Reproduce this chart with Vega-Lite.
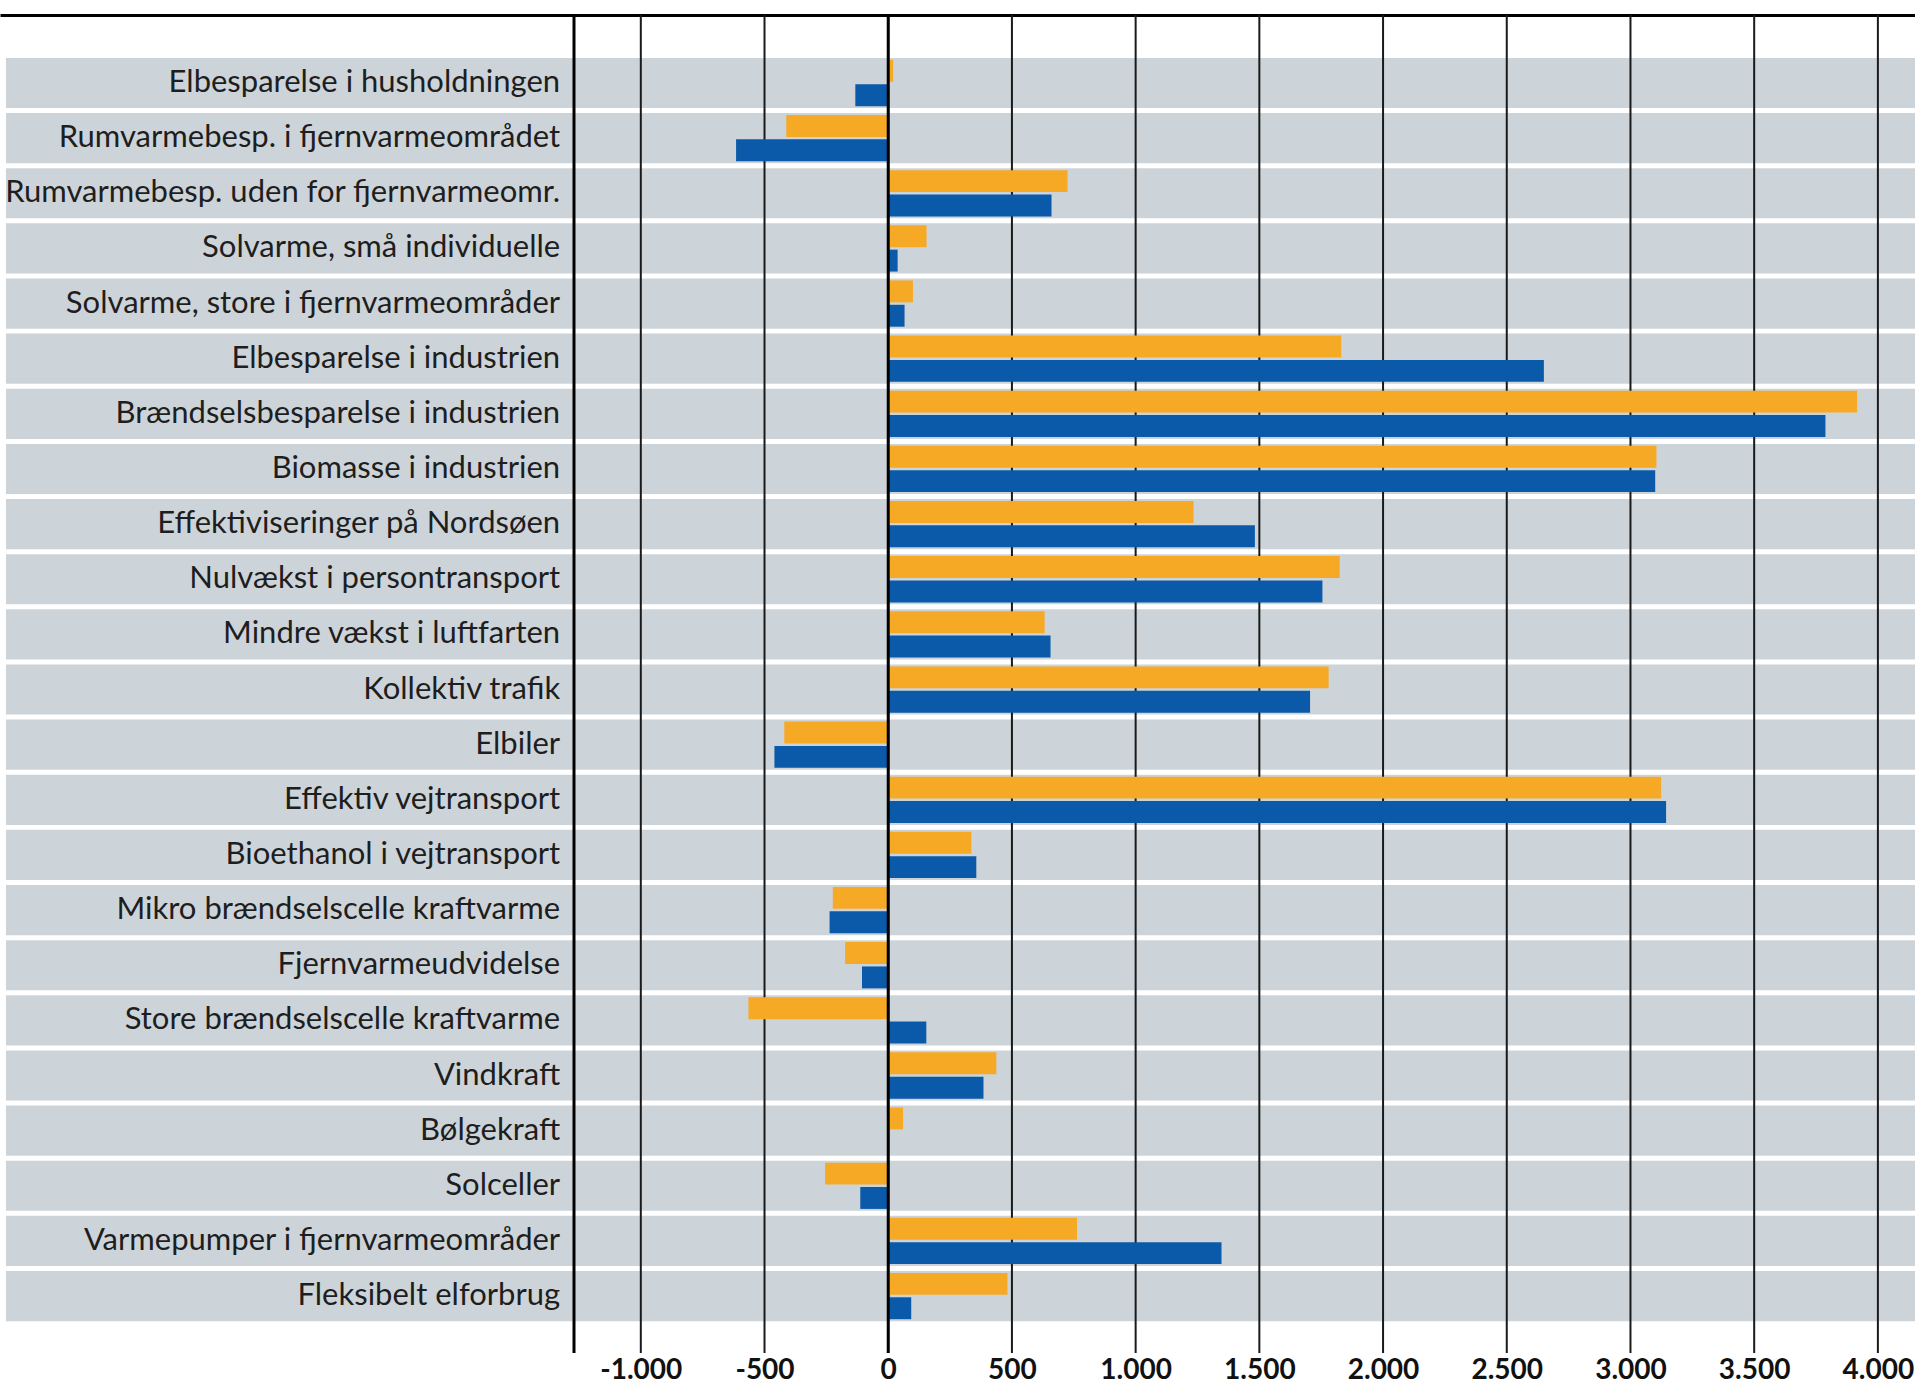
{
  "$schema": "https://vega.github.io/schema/vega-lite/v6.json",
  "width": 1915,
  "height": 1338,
  "autosize": {"type": "none"},
  "padding": {"left": 0, "top": 15, "right": 0, "bottom": 33},
  "background": "white",
  "config": {"view": {"stroke": null}},
  "datasets": {
    "rows": [
      {"cat": "Elbesparelse i husholdningen", "series": "Serie 1", "value": 20},
      {"cat": "Elbesparelse i husholdningen", "series": "Serie 2", "value": -133},
      {"cat": "Rumvarmebesp. i fjernvarmeområdet", "series": "Serie 1", "value": -412},
      {"cat": "Rumvarmebesp. i fjernvarmeområdet", "series": "Serie 2", "value": -615},
      {"cat": "Rumvarmebesp. uden for fjernvarmeomr.", "series": "Serie 1", "value": 725},
      {"cat": "Rumvarmebesp. uden for fjernvarmeomr.", "series": "Serie 2", "value": 660},
      {"cat": "Solvarme, små individuelle", "series": "Serie 1", "value": 155},
      {"cat": "Solvarme, små individuelle", "series": "Serie 2", "value": 38},
      {"cat": "Solvarme, store i fjernvarmeområder", "series": "Serie 1", "value": 100},
      {"cat": "Solvarme, store i fjernvarmeområder", "series": "Serie 2", "value": 66},
      {"cat": "Elbesparelse i industrien", "series": "Serie 1", "value": 1831},
      {"cat": "Elbesparelse i industrien", "series": "Serie 2", "value": 2650},
      {"cat": "Brændselsbesparelse i industrien", "series": "Serie 1", "value": 3916},
      {"cat": "Brændselsbesparelse i industrien", "series": "Serie 2", "value": 3788},
      {"cat": "Biomasse i industrien", "series": "Serie 1", "value": 3105},
      {"cat": "Biomasse i industrien", "series": "Serie 2", "value": 3100},
      {"cat": "Effektiviseringer på Nordsøen", "series": "Serie 1", "value": 1234},
      {"cat": "Effektiviseringer på Nordsøen", "series": "Serie 2", "value": 1482},
      {"cat": "Nulvækst i persontransport", "series": "Serie 1", "value": 1825},
      {"cat": "Nulvækst i persontransport", "series": "Serie 2", "value": 1755},
      {"cat": "Mindre vækst i luftfarten", "series": "Serie 1", "value": 632},
      {"cat": "Mindre vækst i luftfarten", "series": "Serie 2", "value": 656},
      {"cat": "Kollektiv trafik", "series": "Serie 1", "value": 1780},
      {"cat": "Kollektiv trafik", "series": "Serie 2", "value": 1705},
      {"cat": "Elbiler", "series": "Serie 1", "value": -420},
      {"cat": "Elbiler", "series": "Serie 2", "value": -460},
      {"cat": "Effektiv vejtransport", "series": "Serie 1", "value": 3124},
      {"cat": "Effektiv vejtransport", "series": "Serie 2", "value": 3144},
      {"cat": "Bioethanol i vejtransport", "series": "Serie 1", "value": 336},
      {"cat": "Bioethanol i vejtransport", "series": "Serie 2", "value": 356},
      {"cat": "Mikro brændselscelle kraftvarme", "series": "Serie 1", "value": -224},
      {"cat": "Mikro brændselscelle kraftvarme", "series": "Serie 2", "value": -237},
      {"cat": "Fjernvarmeudvidelse", "series": "Serie 1", "value": -174},
      {"cat": "Fjernvarmeudvidelse", "series": "Serie 2", "value": -106},
      {"cat": "Store brændselscelle kraftvarme", "series": "Serie 1", "value": -565},
      {"cat": "Store brændselscelle kraftvarme", "series": "Serie 2", "value": 154},
      {"cat": "Vindkraft", "series": "Serie 1", "value": 437},
      {"cat": "Vindkraft", "series": "Serie 2", "value": 385},
      {"cat": "Bølgekraft", "series": "Serie 1", "value": 60},
      {"cat": "Bølgekraft", "series": "Serie 2", "value": 0},
      {"cat": "Solceller", "series": "Serie 1", "value": -255},
      {"cat": "Solceller", "series": "Serie 2", "value": -113},
      {"cat": "Varmepumper i fjernvarmeområder", "series": "Serie 1", "value": 763},
      {"cat": "Varmepumper i fjernvarmeområder", "series": "Serie 2", "value": 1347},
      {"cat": "Fleksibelt elforbrug", "series": "Serie 1", "value": 482},
      {"cat": "Fleksibelt elforbrug", "series": "Serie 2", "value": 93}
    ],
    "grid": [
      {"v": -1000}, {"v": -500}, {"v": 0}, {"v": 500}, {"v": 1000}, {"v": 1500},
      {"v": 2000}, {"v": 2500}, {"v": 3000}, {"v": 3500}, {"v": 4000}
    ],
    "lines": [
      {"v": 0}, {"v": -1270}
    ]
  },
  "layer": [
    {
      "data": {"name": "rows"},
      "transform": [{"filter": "datum.series === 'Serie 1'"}],
      "mark": {"type": "bar", "color": "#cdd4d9"},
      "encoding": {
        "y": {"field": "cat", "type": "nominal", "sort": null,
              "scale": {"paddingInner": 0.09, "paddingOuter": 0.678, "align": 0.574}, "axis": null},
        "x": {"datum": -3566, "type": "quantitative", "axis": null,
              "scale": {"domain": [-3590, 4150], "nice": false, "zero": false}},
        "x2": {"datum": 4150}
      }
    },
    {
      "data": {"name": "grid"},
      "mark": {"type": "rule", "color": "#1a1a1a", "strokeWidth": 2},
      "encoding": {
        "x": {"field": "v", "type": "quantitative",
              "axis": {"orient": "top", "domain": true, "domainColor": "#000000", "domainWidth": 3,
                       "labels": false, "ticks": false, "grid": false, "title": null}}
      }
    },
    {
      "data": {"name": "rows"},
      "mark": {"type": "bar"},
      "encoding": {
        "y": {"field": "cat", "type": "nominal", "sort": null, "axis": null},
        "yOffset": {"field": "series", "type": "nominal", "sort": null,
                    "scale": {"paddingInner": 0.1, "paddingOuter": 0.08}},
        "x": {"field": "value", "type": "quantitative",
              "axis": {"orient": "bottom", "values": [-1000, -500, 0, 500, 1000, 1500, 2000, 2500, 3000, 3500, 4000],
                       "grid": false, "domain": false, "ticks": false, "title": null,
                       "labelFont": "Lato", "labelFontSize": 28, "labelFontWeight": "bold",
                       "labelColor": "#111111", "labelPadding": 3,
                       "labelExpr": "replace(replace(format(datum.value, ','), ',', '.'), '\u2212', '-')"}},
        "x2": {"datum": 0},
        "color": {"field": "series", "type": "nominal", "legend": null,
                  "scale": {"domain": ["Serie 1", "Serie 2"], "range": ["#f5a924", "#0b5aaa"]}}
      }
    },
    {
      "data": {"name": "lines"},
      "mark": {"type": "rule", "color": "#000000", "strokeWidth": 3},
      "encoding": {"x": {"field": "v", "type": "quantitative", "axis": null}}
    },
    {
      "data": {"name": "rows"},
      "transform": [{"filter": "datum.series === 'Serie 1'"}],
      "mark": {"type": "text", "align": "right", "baseline": "middle", "font": "Lato",
               "fontSize": 31, "color": "#1e1e1e"},
      "encoding": {
        "y": {"field": "cat", "type": "nominal", "sort": null, "axis": null},
        "x": {"datum": -1326, "axis": null},
        "text": {"field": "cat"}
      }
    }
  ]
}
